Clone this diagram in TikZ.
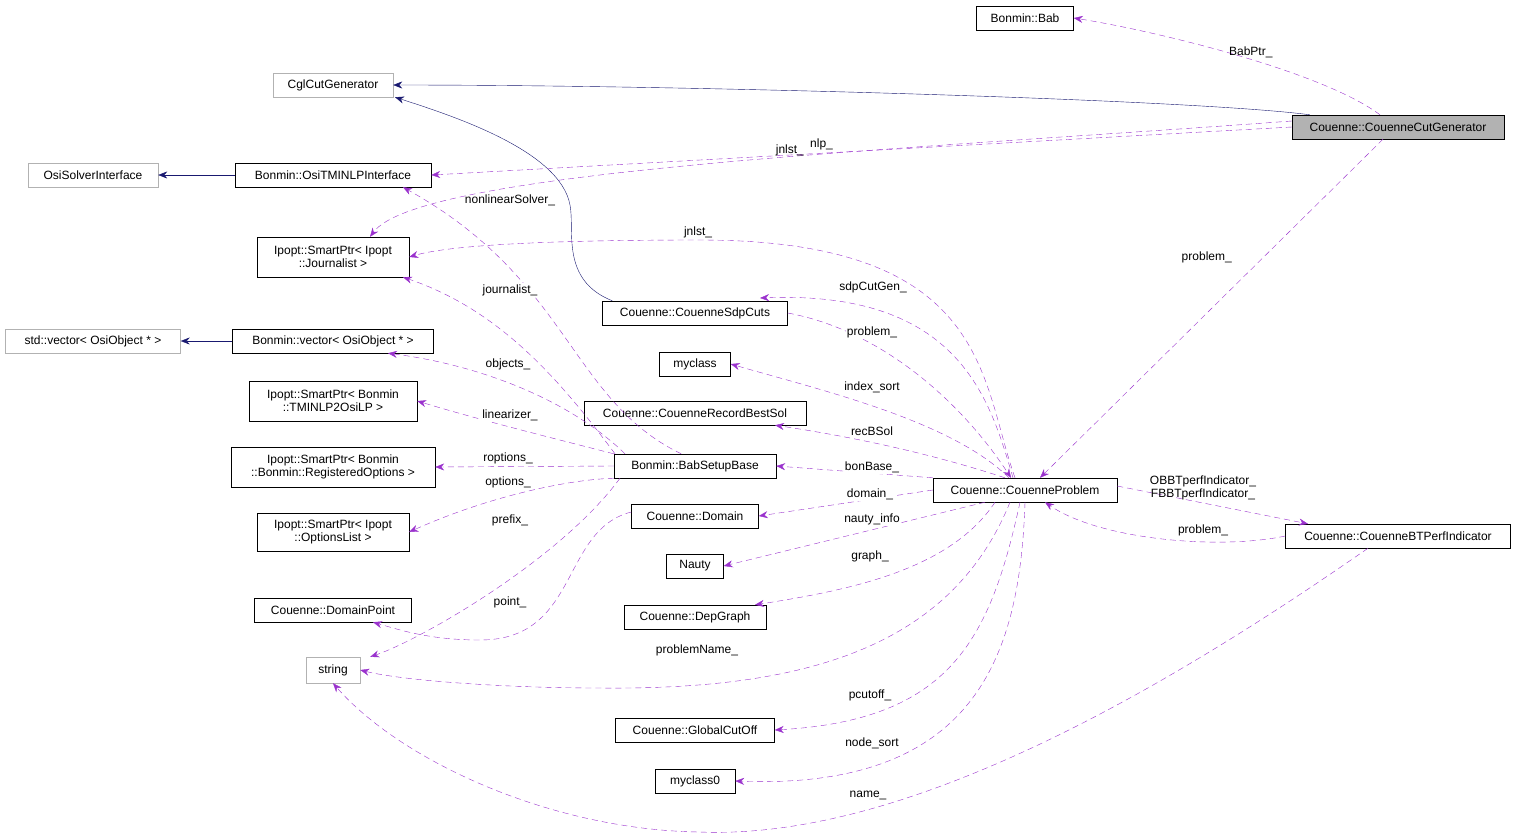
\documentclass[tikz,border=0pt]{standalone}
\usepackage{fontspec}
\setmainfont{Liberation Sans}
\usetikzlibrary{arrows.meta}
\definecolor{orch}{RGB}{154,50,205}
\definecolor{nv}{RGB}{25,25,112}
\begin{document}
\begin{tikzpicture}[x=1pt,y=-1pt,font=\fontsize{12}{13}\selectfont,
 box/.style={draw=black,fill=white,inner sep=0pt,minimum height=24pt,align=center},
 gbox/.style={box,draw=gray!60},
 dep/.style={draw=orch,dashed,dash pattern=on 6pt off 4pt,-{Stealth[length=9pt,width=7pt]}},
 inh/.style={draw=nv,-{Stealth[length=9pt,width=7pt]}},
 lab/.style={font=\fontsize{12}{13}\selectfont,inner sep=1pt,fill=white}]
\useasboundingbox (0,0) rectangle (1517,839);
\node[box,minimum width=97pt] (bab) at (1025,18) {Bonmin::Bab};
\node[gbox,minimum width=120pt] (cgl) at (333,85) {CglCutGenerator};
\node[box,fill=gray!60,minimum width=212pt] (ccg) at (1398,127) {Couenne::CouenneCutGenerator};
\node[gbox,minimum width=130pt] (osi) at (93,175) {OsiSolverInterface};
\node[box,minimum width=196pt] (otm) at (333,175) {Bonmin::OsiTMINLPInterface};
\node[box,minimum width=152pt,minimum height=40pt] (jou) at (333,257) {Ipopt::SmartPtr< Ipopt\\::Journalist >};
\node[box,minimum width=185pt] (sdp) at (695,313) {Couenne::CouenneSdpCuts};
\node[gbox,minimum width=175pt] (stdv) at (93,341) {std::vector< OsiObject * >};
\node[box,minimum width=201pt] (bv) at (333,341) {Bonmin::vector< OsiObject * >};
\node[box,minimum width=71pt] (mc) at (695,364) {myclass};
\node[box,minimum width=168pt,minimum height=40pt] (tm) at (333,401) {Ipopt::SmartPtr< Bonmin\\::TMINLP2OsiLP >};
\node[box,minimum width=222pt] (rbs) at (695,413) {Couenne::CouenneRecordBestSol};
\node[box,minimum width=204pt,minimum height=40pt] (ro) at (333,467) {Ipopt::SmartPtr< Bonmin\\::Bonmin::RegisteredOptions >};
\node[box,minimum width=162pt] (bsb) at (695,466) {Bonmin::BabSetupBase};
\node[box,minimum width=184pt] (cp) at (1025,490) {Couenne::CouenneProblem};
\node[box,minimum width=127pt] (dom) at (695,516) {Couenne::Domain};
\node[box,minimum width=152pt,minimum height=38pt] (ol) at (333,532) {Ipopt::SmartPtr< Ipopt\\::OptionsList >};
\node[box,minimum width=225pt] (bt) at (1398,536) {Couenne::CouenneBTPerfIndicator};
\node[box,minimum width=57pt] (nau) at (695,566) {Nauty};
\node[box,minimum width=157pt] (dp) at (333,610) {Couenne::DomainPoint};
\node[box,minimum width=142pt] (dg) at (695,617) {Couenne::DepGraph};
\node[gbox,minimum width=54pt,minimum height=26pt] (str) at (333,670) {string};
\node[box,minimum width=159pt] (gco) at (695,730) {Couenne::GlobalCutOff};
\node[box,minimum width=80pt] (mc0) at (695,781) {myclass0};
% inheritance
\draw[inh] (ccg.north west)+(18,0) .. controls (1200,100) and (700,85) .. (cgl.east);
\draw[inh] (otm) -- (osi);
\draw[inh] (bv) -- (stdv);
\draw[inh] (sdp.north west)+(10,0) .. controls (560,280) and (575,230) .. (570,205) .. controls (560,150) and (450,115) .. ([xshift=62pt]cgl.south);
% dependencies
\draw[dep] ([xshift=-18pt]ccg.north) .. controls (1320,70) and (1150,30) .. (bab.east) node[lab,pos=0.45,above,fill=none] {BabPtr\_};
\draw[dep] (ccg.west) -- (otm.east) node[lab,pos=0.5,above,fill=none,xshift=-40pt] {nlp\_};
\draw[dep] ([yshift=6pt]ccg.west) .. controls (900,150) and (420,170) .. ([xshift=37pt]jou.north) node[lab,pos=0.42,above,fill=none] {jnlst\_};
\draw[dep] ([xshift=-15pt]ccg.south) -- ([xshift=15pt]cp.north) node[lab,pos=0.35,left,fill=none,xshift=-30pt] {problem\_};
\draw[dep] ([xshift=-10pt]cp.north) .. controls (980,380) and (990,240) .. (700,240) .. controls (550,240) and (450,245) .. (jou.east);
\node[lab,fill=none] at (698,232) {jnlst\_};
\draw[dep] ([xshift=-12pt]cp.north) .. controls (990,400) and (960,290) .. (760,298);
\node[lab,fill=none] at (873,287) {sdpCutGen\_};
\draw[dep] (sdp.east) .. controls (880,330) and (960,400) .. ([xshift=-14pt]cp.north);
\node[lab] at (872,332) {problem\_};
\draw[dep] ([xshift=-16pt]cp.north) .. controls (950,420) and (820,390) .. (mc.east);
\node[lab] at (872,387) {index\_sort};
\draw[dep] ([xshift=-20pt]cp.north) .. controls (920,450) and (840,435) .. ([xshift=80pt]rbs.south);
\node[lab] at (872,431) {recBSol};
\draw[dep] (cp.north west) -- (bsb.east);
\node[lab] at (872,467) {bonBase\_};
\draw[dep] (cp.west) -- (dom.east);
\node[lab] at (870,494) {domain\_};
\draw[dep] ([xshift=-40pt]cp.south) -- (nau.east);
\node[lab] at (872,519) {nauty\_info};
\draw[dep] ([xshift=-30pt]cp.south) .. controls (950,570) and (850,590) .. ([xshift=60pt]dg.north);
\node[lab] at (870,556) {graph\_};
\draw[dep] ([xshift=-15pt]cp.south) .. controls (950,650) and (800,690) .. (600,688) .. controls (500,688) and (400,680) .. (str.east);
\node[lab] at (697,650) {problemName\_};
\draw[dep] ([xshift=-5pt]cp.south) .. controls (990,640) and (950,720) .. (gco.east);
\node[lab] at (870,695) {pcutoff\_};
\draw[dep] (cp.south) .. controls (1020,650) and (980,790) .. (mc0.east);
\node[lab] at (872,743) {node\_sort};
\draw[dep] ([yshift=4pt]cp.east) -- ([xshift=-90pt]bt.north);
\node[lab,fill=none,align=center] at (1203,488) {OBBTperfIndicator\_\\FBBTperfIndicator\_};
\draw[dep] (bt.west) .. controls (1220,550) and (1100,540) .. ([xshift=20pt]cp.south);
\node[lab,fill=none] at (1203,530) {problem\_};
\draw[dep] ([xshift=-30pt]bt.south) .. controls (1150,700) and (900,840) .. (700,832) .. controls (550,830) and (400,760) .. (str.south);
\node[lab] at (868,795) {name\_};
\draw[dep] ([xshift=-95pt]bsb.east|-bsb.north) .. controls (570,400) and (570,280) .. ([xshift=70pt]otm.south);
\node[lab,fill=none] at (510,200) {nonlinearSolver\_};
\draw[dep] ([xshift=-80pt]bsb.north) .. controls (560,380) and (500,310) .. ([xshift=70pt]jou.south);
\node[lab] at (510,290) {journalist\_};
\draw[dep] ([xshift=-70pt]bsb.north) .. controls (570,400) and (480,365) .. ([xshift=55pt]bv.south);
\node[lab] at (508,364) {objects\_};
\draw[dep] (bsb.north west) .. controls (560,440) and (480,420) .. (tm.east);
\node[lab] at (510,415) {linearizer\_};
\draw[dep] (bsb.west) -- (ro.east);
\node[lab] at (508,458) {roptions\_};
\draw[dep] (bsb.south west) .. controls (560,480) and (480,500) .. (ol.east);
\node[lab] at (508,482) {options\_};
\draw[dep] ([xshift=-75pt]bsb.south) .. controls (560,560) and (420,640) .. ([xshift=10pt]str.north east);
\node[lab] at (510,520) {prefix\_};
\draw[dep] ([yshift=4pt]dom.west) .. controls (560,530) and (580,640) .. (480,640) .. controls (430,640) and (400,630) .. ([xshift=40pt]dp.south);
\node[lab] at (510,602) {point\_};
\end{tikzpicture}
\end{document}
